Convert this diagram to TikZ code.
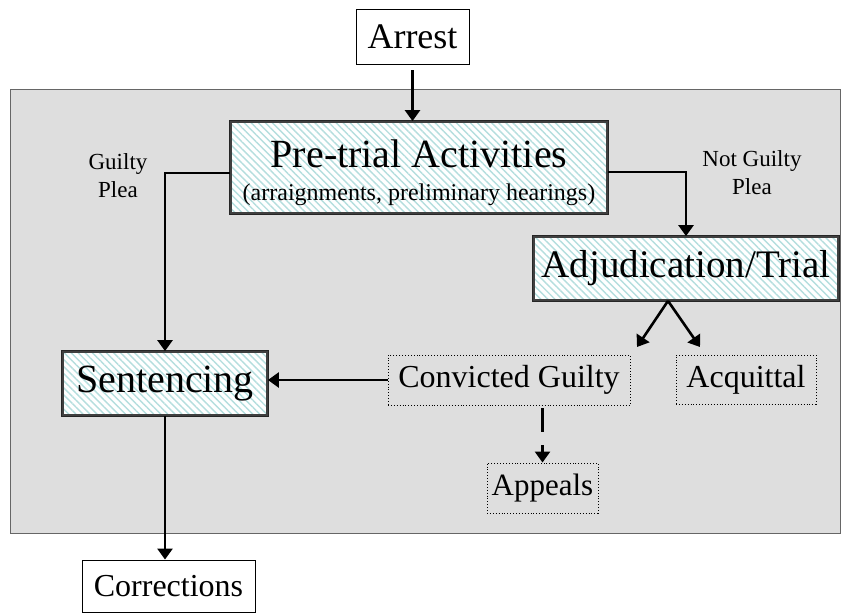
\documentclass[tikz,border=0pt]{standalone}
\usepackage{fontspec}
\setmainfont{Liberation Serif}
\usetikzlibrary{arrows.meta,patterns.meta}
\newcommand\myfs[2]{\fontsize{#1}{#2}\selectfont}
\definecolor{panelgray}{gray}{0.87}
\definecolor{stripe}{RGB}{180,222,222}
\begin{document}
\begin{tikzpicture}[x=1pt,y=-1pt,
  plain/.style={draw=black, line width=0.9pt, fill=white, inner sep=0pt},
  stage/.style={inner sep=0pt,
    preaction={draw=black!85,line width=4.8pt},
    preaction={draw=white,line width=2.8pt},
    preaction={fill=white},
    pattern={Lines[angle=-45,distance=5pt,line width=1.4pt]},
    pattern color=stripe, draw=black!75, line width=1.8pt},
  outcome/.style={draw=black, dotted, line width=0.9pt, inner sep=0pt},
  arr/.style={draw=black, line width=2.6pt, -{Triangle[width=15pt,length=11pt]}},
  plea/.style={align=center, font=\myfs{23}{28}},
]
\useasboundingbox (0,0) rectangle (848,614);
% background panel
\fill[panelgray] (10,89) rectangle (840,533);
\draw[black!60, line width=0.9pt] (10,89) rectangle (840,533);

% nodes
\node[plain, minimum width=113pt, minimum height=55pt, font=\myfs{36}{40}] (arrest) at (412.5,36.5) {Arrest};
\node[stage, minimum width=376pt, minimum height=91pt] (pretrial) at (419,167.5) {};
\node[anchor=base, inner sep=0pt, font=\myfs{40}{40}] (pttitle) at (419,167) {Pre-trial Activities};
\node[anchor=base, inner sep=0pt, font=\myfs{24}{28}] (ptsub) at (419,200) {(arraignments, preliminary hearings)};
\node[stage, minimum width=304pt, minimum height=63pt, font=\myfs{39}{40}] (adj) at (686,268.5) {Adjudication/Trial};
\node[stage, minimum width=204pt, minimum height=63pt, font=\myfs{40}{40}] (sent) at (165,383.5) {Sentencing};
\node[outcome, minimum width=242pt, minimum height=50pt, font=\myfs{32}{36}] (conv) at (509,380) {Convicted Guilty};
\node[outcome, minimum width=140pt, minimum height=49pt, font=\myfs{32}{36}] (acq) at (746,379.5) {Acquittal};
\node[outcome, minimum width=111pt, minimum height=50pt, font=\myfs{31}{36}] (app) at (542.5,488) {Appeals};
\node[plain, minimum width=173pt, minimum height=52pt, font=\myfs{32}{36}] (corr) at (168.5,586) {Corrections};

\node[plea] (gp) at (118,176) {Guilty\\Plea};
\node[plea] (ngp) at (752,173) {Not Guilty\\Plea};

% connectors
\draw[arr, shorten <=6pt] (arrest.south) -- (arrest.south |- pretrial.north);
\draw[arr] ([yshift=-5.5pt]pretrial.west) -| (sent.north);
\draw[arr] ([yshift=-4.5pt]pretrial.east) -| (adj.north);
\coordinate (split) at ([xshift=-18pt]adj.south);
\coordinate (toconv) at (637,347);
\coordinate (toacq) at (700,347);
\draw[arr] (split) -- (toconv);
\draw[arr] (split) -- (toacq);
\draw[arr] (conv.west) -- (conv.west -| sent.east);
\draw[arr, dash pattern=on 24pt off 13pt, shorten <=3pt] (app.north |- conv.south) -- (app.north);
\draw[arr] (sent.south) -- (sent.south |- corr.north);
\end{tikzpicture}
\end{document}
